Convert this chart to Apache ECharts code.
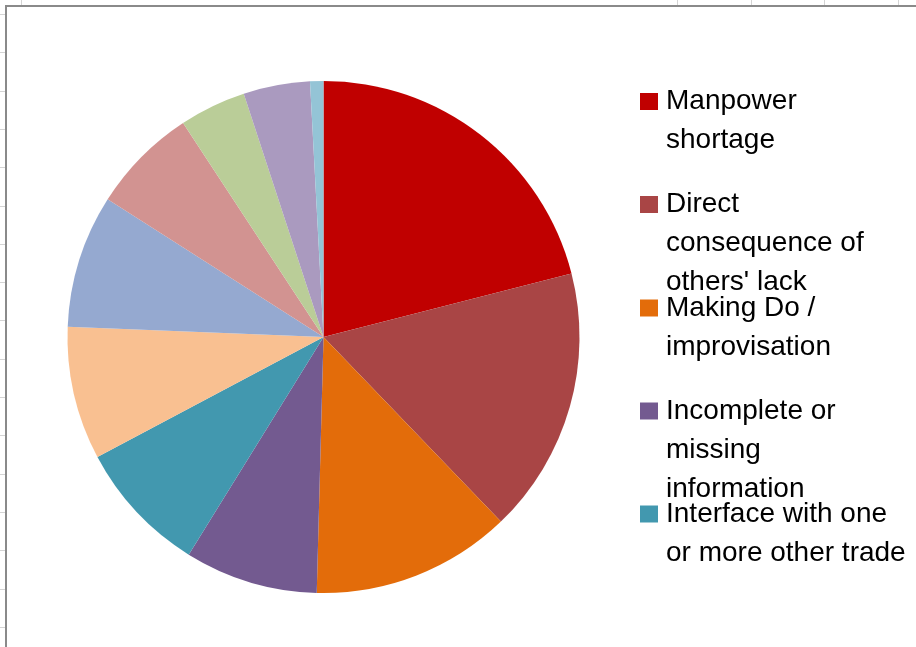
<!DOCTYPE html>
<html>
<head>
<meta charset="utf-8">
<script src="https://cdn.jsdelivr.net/npm/echarts@6/dist/echarts.min.js"></script>
<style>
  html, body { margin: 0; padding: 0; background: #fff; }
  #chart { width: 916px; height: 647px; }
</style>
</head>
<body>
<div id="chart"></div>
<script>
// slice categories, clockwise from 12 o'clock (only the first five fit in the legend)
const categories = [
  'Manpower shortage',
  "Direct consequence of others' lack",
  'Making Do / improvisation',
  'Incomplete or missing information',
  'Interface with one or more other trade',
  'Category 6',
  'Category 7',
  'Category 8',
  'Category 9',
  'Category 10',
  'Category 11'
]
const counts = [25, 20, 15, 10, 10, 10, 10, 8, 5, 5, 1]
// legend text as Excel wrapped it
const legendLines = [
  ['Manpower', 'shortage'],
  ['Direct', 'consequence of', "others' lack"],
  ['Making Do /', 'improvisation'],
  ['Incomplete or', 'missing', 'information'],
  ['Interface with one', 'or more other trade']
]
const colors = [
  '#C00000', '#A94545', '#E36C0A', '#735A90', '#4298AF', '#F9C091',
  '#95A9D0', '#D29391', '#BACD98', '#AA9ABF', '#94C4D6'
]

const chart = echarts.init(document.getElementById('chart'), null, { renderer: 'canvas' })

const LINE_H = 39
const legendCenters = [101.5, 204.5, 308, 411, 514]

// one legend per entry so they sit at fixed steps and can overlap like Excel's
const legends = legendLines.map((lines, i) => {
  const n = lines.length
  // blank lines on top keep the first line level with the marker
  const text = '\n'.repeat(n - 1) + lines.join('\n')
  return {
    data: [categories[i]],
    orient: 'vertical',
    left: 640,
    top: legendCenters[i] - (2 * n - 1) * LINE_H / 2,
    padding: 0,
    icon: 'rect',
    itemWidth: 18,
    itemHeight: 17,
    selectedMode: false,
    formatter: () => text,
    textStyle: {
      fontFamily: '"Liberation Sans", Arial, sans-serif',
      fontSize: 28,
      color: '#000',
      lineHeight: LINE_H,
      padding: [0, 0, 0, 3]
    }
  }
})

// spreadsheet cells peeking out around the chart frame
const sheetLines = []
for (let y = 14; y < 647; y += 38.3) {
  sheetLines.push({
    type: 'line', silent: true,
    shape: { x1: 0, y1: Math.round(y) + 0.5, x2: 5, y2: Math.round(y) + 0.5 },
    style: { stroke: '#d4d4d4', lineWidth: 1 }
  })
}
;[21, 677, 751, 824, 898].forEach(x => {
  sheetLines.push({
    type: 'line', silent: true,
    shape: { x1: x + 0.5, y1: 0, x2: x + 0.5, y2: 5 },
    style: { stroke: '#d4d4d4', lineWidth: 1 }
  })
})

chart.setOption({
  backgroundColor: '#fff',
  animation: false,
  color: colors,
  legend: legends,
  graphic: sheetLines.concat([
    {
      type: 'rect', silent: true,
      shape: { x: 6, y: 6, width: 940, height: 680 },
      style: { fill: null, stroke: '#8a8a8a', lineWidth: 2 }
    }
  ]),
  series: [{
    type: 'pie',
    center: [323.5, 337],
    radius: 256,
    startAngle: 90,
    clockwise: true,
    label: { show: false },
    labelLine: { show: false },
    emphasis: { scale: false },
    itemStyle: { borderWidth: 0 },
    data: categories.map((name, i) => ({ name, value: counts[i] }))
  }]
})
</script>
</body>
</html>
